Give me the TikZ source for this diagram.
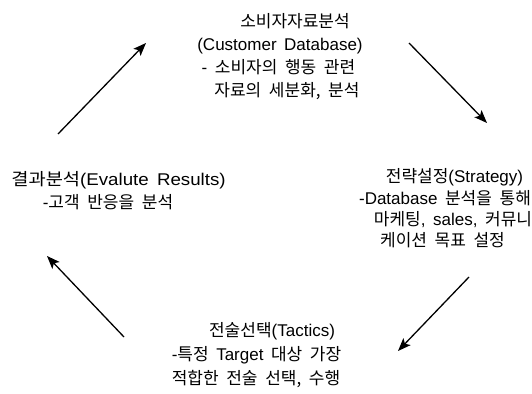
\documentclass[tikz,border=0pt]{standalone}
\usepackage{fontspec}
\setmainfont[WordSpace=1.6]{Liberation Sans}
\newfontfamily\kr[WordSpace=2]{Noto Sans CJK KR}
\usetikzlibrary{arrows.meta}
\begin{document}
\begin{tikzpicture}[x=1pt,y=1pt,
  txt/.style={anchor=base,inner sep=0pt,font=\fontsize{17}{20}\selectfont},
  cyc/.style={line width=1.3pt,-{Stealth[length=13pt,width=10pt,inset=3pt]}}]
\useasboundingbox (0,0) rectangle (532,393);
% top block
\node[txt] (t1) at (295,365) {{\kr 소비자자료분석}};
\node[txt] (t2) at (280,342.5) {(Customer Database)};
\node[txt] (t3) at (278.5,319.5) {- {\kr 소비자의 행동 관련}};
\node[txt] (t4) at (287,296.5) {{\kr 자료의 세분화, 분석}};
% right block
\node[txt] (r1) at (454.5,210.5) {{\kr 전략설정}(Strategy)};
\node[txt] (r2) at (445,188.5) {-Database {\kr 분석을 통해}};
\node[txt] (r3) at (453,167.5) {{\kr 마케팅}, sales, {\kr 커뮤니}};
\node[txt] (r4) at (442.5,146.5) {{\kr 케이션 목표 설정}};
% bottom block
\node[txt] (b1) at (272,56.5) {{\kr 전술선택}(Tactics)};
\node[txt] (b2) at (256.5,32.5) {-{\kr 특정} Target {\kr 대상 가장}};
\node[txt] (b3) at (256,8.5) {{\kr 적합한 전술 선택, 수행}};
% left block
\node[txt] (l1) at (118.5,207.5) {\scalebox{1.1}[1]{{\kr 결과분석}(Evalute Results)}};
\node[txt] (l2) at (108,184.5) {-{\kr 고객 반응을 분석}};
% arrows
\coordinate (a1s) at (58,259);  \coordinate (a1e) at (146,350);
\coordinate (a2s) at (409,350); \coordinate (a2e) at (487,270);
\coordinate (a3s) at (469,116); \coordinate (a3e) at (398,42);
\coordinate (a4s) at (124,56);  \coordinate (a4e) at (47,137);
\draw[cyc] (a1s) -- (a1e);
\draw[cyc] (a2s) -- (a2e);
\draw[cyc] (a3s) -- (a3e);
\draw[cyc] (a4s) -- (a4e);
\end{tikzpicture}
\end{document}
